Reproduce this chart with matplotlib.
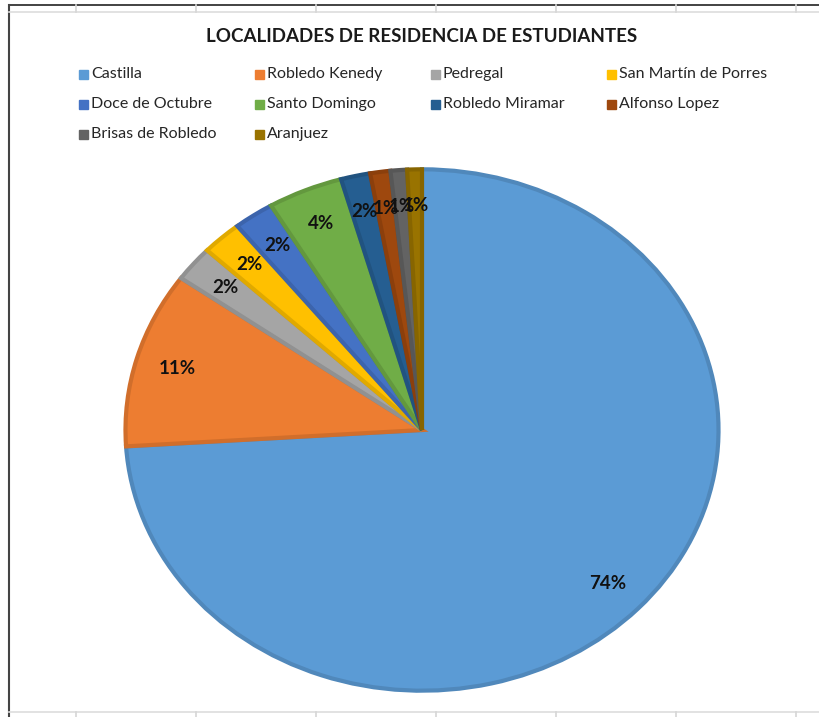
import matplotlib.pyplot as plt
import matplotlib.colors as mcolors
from matplotlib.patches import Rectangle
from matplotlib.lines import Line2D

plt.rcParams['font.family'] = ['Lato', 'DejaVu Sans']

# data (percent of students)
localidades = ['Castilla', 'Robledo Kenedy', 'Pedregal', 'San Martín de Porres',
               'Doce de Octubre', 'Santo Domingo', 'Robledo Miramar', 'Alfonso Lopez',
               'Brisas de Robledo', 'Aranjuez']
porcentajes = [74.0, 10.9, 2.2, 2.2, 2.2, 4.1, 1.6, 1.1, 0.9, 0.8]
colores = ['#5B9BD5', '#ED7D31', '#A5A5A5', '#FFC000', '#4472C4',
           '#70AD47', '#255E91', '#9E480E', '#636363', '#997300']
titulo = 'LOCALIDADES DE RESIDENCIA DE ESTUDIANTES'

W, H = 820, 717
fig = plt.figure(figsize=(W / 100, H / 100), dpi=100)

# spreadsheet background (frame and grid)
def px_line(x0, y0, x1, y1, color, lw):
    fig.add_artist(Line2D([x0 / W, x1 / W], [1 - y0 / H, 1 - y1 / H],
                          transform=fig.transFigure, color=color, lw=lw))

px_line(9, 5, W, 5, '#222222', 1.2)
px_line(9, 5, 9, H, '#444444', 1.5)
px_line(9, 12, W, 12, '#dddddd', 1.2)
px_line(9, 712, W, 712, '#dddddd', 1.2)
for gx in [76, 196, 316, 436, 556, 676, 796]:
    px_line(gx, 5, gx, 12, '#d6d6d6', 1.2)
    px_line(gx, 712, gx, H, '#d6d6d6', 1.2)

# pie (slightly wider than tall, as in the original)
cx, cy, rx, ry = 422, 430, 298, 262
ax = fig.add_axes([(cx - rx) / W, 1 - (cy + ry) / H, 2 * rx / W, 2 * ry / H])
wedges, texts, autotexts = ax.pie(
    porcentajes, colors=colores, startangle=90, counterclock=False,
    autopct='%1.0f%%', pctdistance=0.86,
    textprops={'fontsize': 13.5, 'fontweight': 'bold', 'color': '#111111'})
for w, c in zip(wedges, colores):
    rgb = mcolors.to_rgb(c)
    w.set_edgecolor(tuple(v * 0.88 for v in rgb))
    w.set_linewidth(3)
ax.set_aspect('auto')
ax.set_xlim(-1.005, 1.005)
ax.set_ylim(-1.005, 1.005)
ax.axis('off')

fig.text(422 / W, 1 - 37 / H, titulo, ha='center', va='center',
         fontsize=13.5, fontweight='bold', color='#1a1a1a')

# legend laid out row by row like Excel
for i, (nombre, c) in enumerate(zip(localidades, colores)):
    fila, col = divmod(i, 4)
    x = 79 + col * 176
    y = 74 + fila * 30
    fig.add_artist(Rectangle((x / W, 1 - (y + 4.5) / H), 9 / W, 9 / H,
                             transform=fig.transFigure, color=c))
    fig.text((x + 12) / W, 1 - y / H, nombre, ha='left', va='center',
             fontsize=11.5, color='#262626')

fig.savefig('out.png', dpi=100)
